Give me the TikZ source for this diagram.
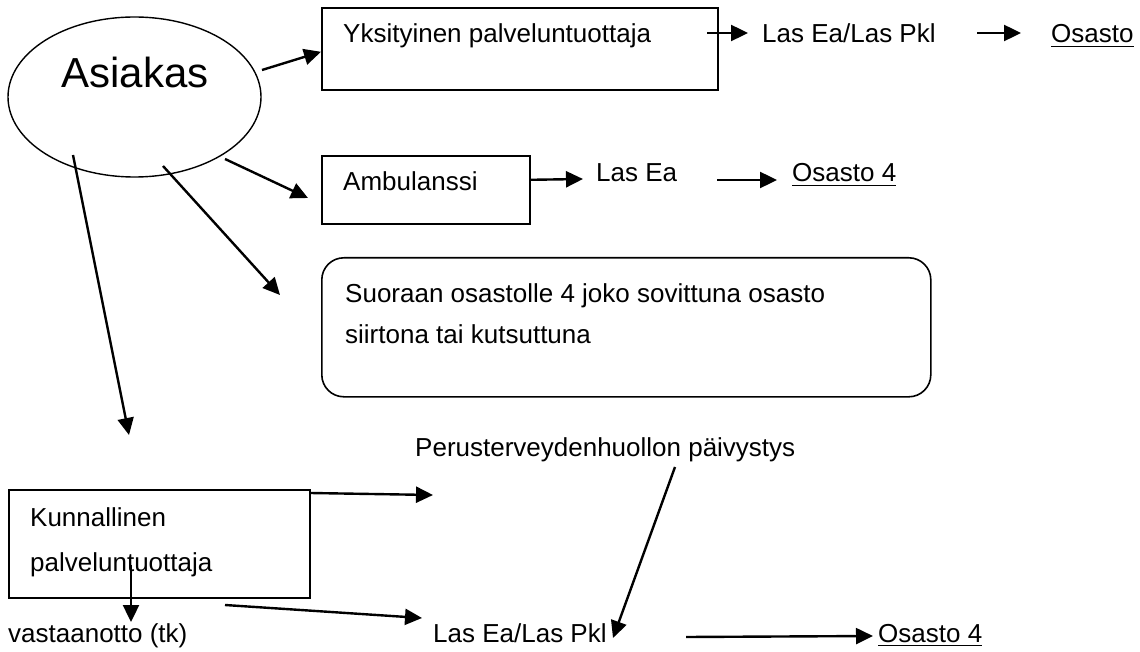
\documentclass[tikz,border=0pt]{standalone}
\usepackage{fontspec}
\setmainfont{Liberation Sans}
\usetikzlibrary{arrows.meta}
\usetikzlibrary{shapes.geometric}
\usetikzlibrary{positioning}

\newcommand{\osline}[1]{\underline{#1\rule[-2pt]{0pt}{0pt}}}

\begin{document}
\begin{tikzpicture}[x=1pt,y=-1pt,>={Triangle[length=17pt,width=16pt]}, box/.style={draw,line width=1.6pt,inner sep=0pt,anchor=north west}, txt/.style={inner sep=0pt,anchor=base west,font=\fontsize{26}{31}\selectfont}, arr/.style={->,line width=2.4pt}, ]

	\useasboundingbox (0,0) rectangle (1140,652);

	\node[draw,ellipse,line width=1.4pt,minimum width=253pt,minimum height=160pt] (asiakas) at (134.5,97) {};
	\node[txt,anchor=base,font=\fontsize{42}{50}\selectfont] (asiakastxt) at (135,88) {Asiakas};

	\node[box,minimum width=396pt,minimum height=82pt] (ykbox) at (321,7) {};
	\node[txt] (yk) at (343,43) {Yksityinen palveluntuottaja};
	\node[txt] (laspkl1) at (762,43) {Las Ea/Las Pkl};
	\node[txt] (osasto1) at (1051,43) {\osline{Osasto}};

	\node[box,minimum width=208pt,minimum height=68pt] (ambbox) at (321,155) {};
	\node[txt] (amb) at (343,191) {Ambulanssi};
	\node[txt] (lasea) at (596,182) {Las Ea};
	\node[txt] (osasto2) at (792,182) {\osline{Osasto 4}};

	\node[box,rounded corners=22pt,minimum width=609pt,minimum height=139pt] (suoraan) at (321,257) {};
	\node[txt,align=left,font=\fontsize{26}{41}\selectfont] (suoraantxt) at (345,343) {Suoraan osastolle 4 joko sovittuna osasto\\siirtona tai kutsuttuna};

	\node[box,minimum width=301pt,minimum height=108pt] (kunbox) at (8,489) {};
	\node[txt,align=left,font=\fontsize{26}{45}\selectfont] (kuntxt) at (30,571) {Kunnallinen\\palveluntuottaja};
	\node[txt] (perus) at (415,456) {Perusterveydenhuollon päivystys};
	\node[txt] (vast) at (8,642) {vastaanotto (tk)};
	\node[txt] (laspkl2) at (433,642) {Las Ea/Las Pkl};
	\node[txt] (osasto3) at (878,642) {\osline{Osasto 4}};

	% free ends of the connectors
	\coordinate (a1) at (262,70);
	\coordinate (a2) at (225,159);
	\coordinate (a2t) at (308,198);
	\coordinate (a3) at (163,166);
	\coordinate (a3t) at (280,295);
	\coordinate (a4) at (73,155);
	\coordinate (a4t) at (129,435);
	\coordinate (y1) at (707,33);
	\coordinate (y1t) at (748,33);
	\coordinate (y2) at (977,33);
	\coordinate (y2t) at (1021,33);
	\coordinate (b1t) at (583,179);
	\coordinate (b2) at (717,180);
	\coordinate (b2t) at (777,180);
	\coordinate (k1t) at (433,495);
	\coordinate (k2) at (131,565);
	\coordinate (k2t) at (131,622);
	\coordinate (k3) at (225,605);
	\coordinate (k3t) at (422,618);
	\coordinate (p1) at (675,467);
	\coordinate (p1t) at (613,638);
	\coordinate (l1) at (686,637);
	\coordinate (l1t) at (873,636);

	\draw[arr] (a1) to[] ([yshift=-3pt]ykbox.west);
	\draw[arr] (a2) to[] (a2t);
	\draw[arr] (a3) to[] (a3t);
	\draw[arr] (a4) to[] (a4t);
	\draw[arr] (y1) to[] (y1t);
	\draw[arr] (y2) to[] (y2t);
	\draw[arr] ([yshift=10pt]ambbox.east) to[] (b1t);
	\draw[arr] (b2) to[] (b2t);
	\draw[arr] ([yshift=-4pt]kunbox.north east) to[] (k1t);
	\draw[arr] (k2) to[] (k2t);
	\draw[arr] (k3) to[] (k3t);
	\draw[arr] (p1) to[] (p1t);
	\draw[arr] (l1) to[] (l1t);

\end{tikzpicture}
\end{document}
